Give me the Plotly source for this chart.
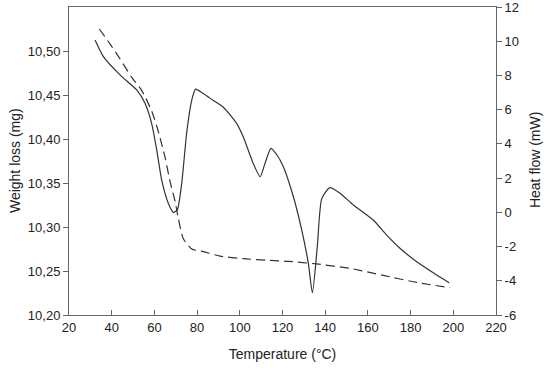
import plotly.graph_objects as go

# Heat flow (DSC, solid, right axis)
hf_temp = [32.2, 36.1, 43.9, 51.7, 55.6, 58.7, 61.1, 63.4, 66.5, 68.9, 70.7, 72.8, 75.1, 77.5,
           79.3, 82.2, 86.1, 92.3, 98.5, 101.6, 106.3, 109.5, 111.8, 114.6, 117.4, 120.4,
           125.1, 129.0, 132.1, 134.0, 136.3, 138.4, 142.2, 146.9, 153.2, 162.5,
           168.8, 175.0, 182.9, 192.2, 198.1]
hf_val = [10.07, 9.10, 8.03, 7.15, 6.37, 5.20, 3.64, 1.89, 0.53, 0.00, 0.14, 1.70, 4.62, 6.56,
          7.20, 7.00, 6.66, 6.14, 5.20, 4.42, 2.86, 2.08, 2.86, 3.74, 3.35, 2.67,
          0.91, -1.03, -2.98, -4.70, -2.01, 0.80, 1.44, 1.11, 0.43, -0.45,
          -1.33, -2.10, -2.89, -3.66, -4.11]

# Weight (TGA, dashed, left axis)
wt_temp = [34.2, 39.2, 43.9, 49.4, 54.1, 58.7, 61.8, 65.0, 67.3, 69.7, 71.2, 73.5, 77.5, 82.9,
           90.7, 101.6, 114.1, 122.7, 136.0, 151.6, 167.2, 182.9, 198.5]
wt_val = [10.525, 10.508, 10.491, 10.470, 10.455, 10.432, 10.409, 10.379, 10.352, 10.329,
          10.310, 10.287, 10.275, 10.272, 10.267, 10.264, 10.262, 10.261, 10.258, 10.253,
          10.245, 10.237, 10.231]

x_ticks = [20, 40, 60, 80, 100, 120, 140, 160, 180, 200, 220]
left_ticks = [10.20, 10.25, 10.30, 10.35, 10.40, 10.45, 10.50]
left_labels = ["10,20", "10,25", "10,30", "10,35", "10,40", "10,45", "10,50"]
right_ticks = [-6, -4, -2, 0, 2, 4, 6, 8, 10, 12]
right_labels = ["-6", "-4", "-2", "0", "2", "4", "6", "8", "10", "12"]

line_col = "#333333"
axis_col = "#666666"
font = dict(family="Liberation Sans, Arial, sans-serif", size=13, color="#222222")

fig = go.Figure()
fig.add_trace(go.Scatter(x=wt_temp, y=wt_val, mode="lines", yaxis="y",
                         line=dict(color=line_col, width=1.2, dash="9px,5px",
                                   shape="spline", smoothing=0.6),
                         showlegend=False))
fig.add_trace(go.Scatter(x=hf_temp, y=hf_val, mode="lines", yaxis="y2",
                         line=dict(color=line_col, width=1.2, shape="spline", smoothing=0.6),
                         showlegend=False))

fig.update_layout(
    width=550, height=370,
    margin=dict(l=69, r=54, t=7, b=55),
    paper_bgcolor="white", plot_bgcolor="white",
    font=font,
    xaxis=dict(range=[20, 220], tickvals=x_ticks, ticks="inside", ticklen=5,
               tickcolor=axis_col, showline=True, linecolor=axis_col, linewidth=1,
               mirror=True, showgrid=False, zeroline=False, automargin=False,
               ticklabeloverflow="allow",
               title=dict(text="Temperature (°C)", font=dict(size=14), standoff=15)),
    yaxis=dict(range=[10.20, 10.55], tickvals=left_ticks, ticktext=left_labels,
               ticks="outside", ticklen=5, tickcolor=axis_col, showline=True,
               linecolor=axis_col, linewidth=1, showgrid=False, zeroline=False,
               automargin=False, ticklabeloverflow="allow"),
    yaxis2=dict(range=[-6, 12], tickvals=right_ticks, ticktext=right_labels,
                overlaying="y", side="right",
                ticks="outside", ticklen=5, tickcolor=axis_col, showline=True,
                linecolor=axis_col, linewidth=1, showgrid=False, zeroline=False,
                automargin=False, ticklabeloverflow="allow"),
    annotations=[
        dict(text="Weight loss (mg)", xref="paper", yref="paper", x=-0.1265, y=0.503,
             xanchor="center", yanchor="middle", textangle=-90, showarrow=False,
             font=dict(size=14)),
        dict(text="Heat flow (mW)", xref="paper", yref="paper", x=1.0913, y=0.503,
             xanchor="center", yanchor="middle", textangle=-90, showarrow=False,
             font=dict(size=14)),
    ],
)

fig.write_html("out.html", config={"displayModeBar": False},
               post_script="document.body.style.margin='0';document.body.style.overflow='hidden';")
